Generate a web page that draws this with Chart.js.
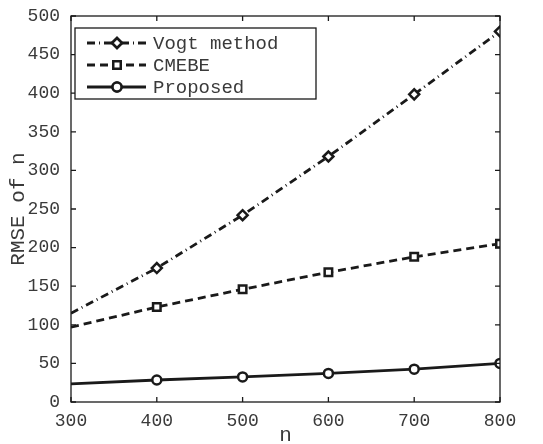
<!DOCTYPE html>
<html>
<head>
<meta charset="utf-8">
<script src="https://cdn.jsdelivr.net/npm/chart.js@4.4.0/dist/chart.umd.min.js"></script>
<style>
  html, body { margin: 0; padding: 0; background: #fff; }
  #wrap { width: 543px; height: 444px; }
</style>
</head>
<body>
<div id="wrap"><canvas id="c" width="543" height="444"></canvas></div>
<script>
// data
const nValues = [300, 400, 500, 600, 700, 800];
const vogt     = [115, 173.5, 242, 318, 398.5, 480];
const cmebe    = [97, 123, 146, 168, 188, 205];
const proposed = [23.5, 28.5, 32.5, 37, 42.5, 50];
const yTicks = [0, 50, 100, 150, 200, 250, 300, 350, 400, 450, 500];

const FONT = "'Liberation Mono', 'DejaVu Sans Mono', monospace";
const INK = '#1a1a1a';
const TXT = '#3a3a3a';

// markers only from 400 on
const markR = r => nValues.map((v, i) => i === 0 ? 0 : r);

const series = [
  { label: 'Vogt method', data: vogt, style: 'rectRot', r: 5, dash: [8, 4, 1, 4], w: 2.8 },
  { label: 'CMEBE', data: cmebe, style: 'rect', r: 5.3, dash: [8, 5], w: 2.8 },
  { label: 'Proposed', data: proposed, style: 'circle', r: 4.5, dash: [], w: 2.8 }
];

// box + inward ticks, matlab style
const framePlugin = {
  id: 'frame',
  afterDatasetsDraw(chart) {
    const { ctx, chartArea: a, scales } = chart;
    ctx.save();
    ctx.strokeStyle = INK;
    ctx.lineWidth = 1.3;
    ctx.setLineDash([]);
    ctx.strokeRect(a.left, a.top, a.right - a.left, a.bottom - a.top);
    const L = 5;
    ctx.beginPath();
    scales.x.ticks.forEach(t => {
      const x = scales.x.getPixelForValue(t.value);
      ctx.moveTo(x, a.bottom); ctx.lineTo(x, a.bottom - L);
      ctx.moveTo(x, a.top); ctx.lineTo(x, a.top + L);
    });
    scales.y.ticks.forEach(t => {
      const y = scales.y.getPixelForValue(t.value);
      ctx.moveTo(a.left, y); ctx.lineTo(a.left + L, y);
      ctx.moveTo(a.right, y); ctx.lineTo(a.right - L, y);
    });
    ctx.stroke();
    ctx.restore();
  }
};

// legend box in upper-left corner of the axes
const legendPlugin = {
  id: 'boxLegend',
  afterDraw(chart) {
    const { ctx, chartArea: a } = chart;
    const x0 = a.left + 4, y0 = a.top + 12, w = 241, h = 71;
    ctx.save();
    ctx.fillStyle = '#fff';
    ctx.fillRect(x0, y0, w, h);
    ctx.strokeStyle = INK;
    ctx.lineWidth = 1.3;
    ctx.strokeRect(x0, y0, w, h);
    series.forEach((s, i) => {
      const y = y0 + 15 + i * 22;
      ctx.strokeStyle = INK;
      ctx.lineWidth = s.w;
      ctx.setLineDash(s.dash);
      ctx.beginPath();
      ctx.moveTo(x0 + 12, y); ctx.lineTo(x0 + 71, y);
      ctx.stroke();
      ctx.setLineDash([]);
      ctx.lineWidth = 2.5;
      ctx.fillStyle = '#fff';
      Chart.helpers.drawPoint(ctx, { pointStyle: s.style, radius: s.r, borderWidth: 2.5 }, x0 + 42, y);
      ctx.fill();
      ctx.stroke();
      ctx.fillStyle = TXT;
      ctx.font = '19px ' + FONT;
      ctx.textBaseline = 'middle';
      ctx.fillText(s.label, x0 + 78, y + 1);
    });
    ctx.restore();
  }
};

new Chart(document.getElementById('c'), {
  type: 'line',
  data: {
    labels: nValues,
    datasets: series.map(s => ({
      label: s.label,
      data: s.data.map((v, i) => ({ x: nValues[i], y: v })),
      borderColor: INK,
      backgroundColor: '#fff',
      borderWidth: s.w,
      borderDash: s.dash,
      pointStyle: s.style,
      pointRadius: markR(s.r),
      pointBorderWidth: 2.5,
      pointBorderColor: INK,
      pointBackgroundColor: '#fff',
      tension: 0,
      fill: false
    }))
  },
  options: {
    responsive: false,
    animation: false,
    layout: { padding: { left: 0, right: 43, top: 16, bottom: 0 } },
    plugins: { legend: { display: false }, tooltip: { enabled: false } },
    scales: {
      x: {
        type: 'linear', min: 300, max: 800,
        afterBuildTicks: s => { s.ticks = nValues.map(v => ({ value: v })); },
        grid: { display: false },
        border: { display: false },
        ticks: { color: TXT, font: { family: FONT, size: 18 }, padding: 0, maxRotation: 0 },
        title: { display: true, text: 'n', color: TXT, font: { family: FONT, size: 21, lineHeight: 1 }, padding: { top: 0, bottom: -1.5 } },
        afterFit: s => { s.height = 42; }
      },
      y: {
        min: 0, max: 500,
        afterBuildTicks: s => { s.ticks = yTicks.map(v => ({ value: v })); },
        grid: { display: false },
        border: { display: false },
        ticks: { color: TXT, font: { family: FONT, size: 18 }, padding: 3 },
        title: { display: true, text: 'RMSE of n', color: TXT, font: { family: FONT, size: 21, lineHeight: 1 }, padding: { top: 7.5, bottom: 0 } },
        afterFit: s => { s.width = 71; }
      }
    }
  },
  plugins: [framePlugin, legendPlugin]
});
</script>
</body>
</html>
